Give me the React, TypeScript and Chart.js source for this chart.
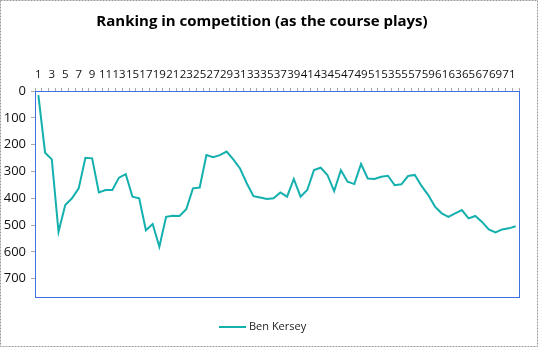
import React, { useEffect, useRef } from "react";
import { Chart, registerables } from "chart.js";

Chart.register(...registerables);

const TITLE = "Ranking in competition (as the course plays)";
const SERIES_NAME = "Ben Kersey";
const holes: string[] = Array.from({ length: 72 }, (_, i) => String(i + 1));
const ranking: number[] = [
  15, 230, 255, 525, 425, 400, 363, 249, 251, 378,
  369, 369, 323, 310, 394, 400, 519, 496, 581, 469,
  465, 466, 441, 363, 360, 239, 247, 239, 226, 255,
  289, 344, 392, 397, 403, 400, 378, 394, 328, 394,
  369, 295, 286, 313, 373, 295, 338, 347, 272, 326,
  328, 320, 316, 351, 348, 317, 313, 354, 388, 431,
  456, 469, 456, 444, 475, 466, 488, 516, 527, 516,
  512, 504,
];
const yMax = 768;
const yTickValues: number[] = [0, 100, 200, 300, 400, 500, 600, 700];

const LINE_COLOR = "#14B0AE";
const FONT = "'Open Sans', 'Liberation Sans', sans-serif";

export default function App() {
  const ref = useRef<HTMLCanvasElement | null>(null);
  useEffect(() => {
    document.body.style.margin = "0";
    const canvas = ref.current;
    if (!canvas) return;
    const framePlugin = {
      id: "frame",
      beforeDraw(chart: any) {
        const ctx = chart.ctx;
        ctx.save();
        ctx.fillStyle = "#ffffff";
        ctx.fillRect(0, 0, chart.width, chart.height);
        ctx.restore();
      },
      afterDraw(chart: any) {
        const ctx = chart.ctx;
        const a = chart.chartArea;
        ctx.save();
        // plot area border
        ctx.strokeStyle = "#3F6FE0";
        ctx.lineWidth = 1;
        ctx.strokeRect(Math.round(a.left) + 0.5, Math.round(a.top) + 0.5, Math.round(a.right - a.left), Math.round(a.bottom - a.top));
        // chart area dotted border
        ctx.setLineDash([2, 1]);
        ctx.strokeStyle = "#9a9a9a";
        ctx.strokeRect(0.5, 0.5, 537, 346);
        ctx.setLineDash([]);
        // title
        ctx.fillStyle = "#000000";
        ctx.font = `bold 15px ${FONT}`;
        ctx.textAlign = "center";
        ctx.textBaseline = "middle";
        ctx.fillText(TITLE, 262, 22);
        // legend
        const ly = 327;
        ctx.strokeStyle = LINE_COLOR;
        ctx.lineWidth = 2;
        ctx.beginPath();
        ctx.moveTo(219, ly);
        ctx.lineTo(246, ly);
        ctx.stroke();
        ctx.fillStyle = "#222222";
        ctx.font = `11px ${FONT}`;
        ctx.textAlign = "left";
        ctx.fillText(chart.data.datasets[0].label, 249, ly);
        ctx.restore();
      },
    };
    const chart = new Chart(canvas, {
      type: "line",
      data: {
        labels: holes,
        datasets: [
          {
            label: SERIES_NAME,
            data: ranking,
            borderColor: LINE_COLOR,
            backgroundColor: LINE_COLOR,
            borderWidth: 2,
            pointRadius: 0,
            tension: 0,
          },
        ],
      },
      options: {
        animation: false,
        responsive: false,
        layout: { padding: { top: 60, right: 20, left: 0, bottom: 51 } },
        plugins: {
          title: { display: false },
          tooltip: { enabled: false },
          legend: { display: false },
        },
        scales: {
          x: {
            type: "category",
            position: "top",
            offset: true,
            grid: {
              display: true,
              drawOnChartArea: false,
              drawTicks: true,
              tickLength: 3,
              offset: true,
              color: "#aaaaaa",
            },
            border: { display: false },
            ticks: {
              autoSkip: false,
              maxRotation: 0,
              minRotation: 0,
              padding: 6,
              color: "#111111",
              font: { family: FONT, size: 11.5 },
              callback: (_v: any, i: number) => (i % 2 === 0 ? holes[i] : ""),
            },
            afterFit: (s: any) => {
              s.height = 31;
            },
          },
          y: {
            type: "linear",
            reverse: true,
            min: 0,
            max: yMax,
            grid: {
              display: true,
              drawOnChartArea: false,
              drawTicks: true,
              tickLength: 4,
              color: "#aaaaaa",
            },
            border: { display: false },
            afterBuildTicks: (s: any) => {
              s.ticks = yTickValues.map((v) => ({ value: v }));
            },
            ticks: {
              padding: 5,
              color: "#111111",
              font: { family: FONT, size: 13 },
            },
            afterFit: (s: any) => {
              s.width = 35;
            },
          },
        },
      },
      plugins: [framePlugin],
    });
    return () => chart.destroy();
  }, []);
  return <canvas ref={ref} width={539} height={348} style={{ display: "block" }} />;
}
